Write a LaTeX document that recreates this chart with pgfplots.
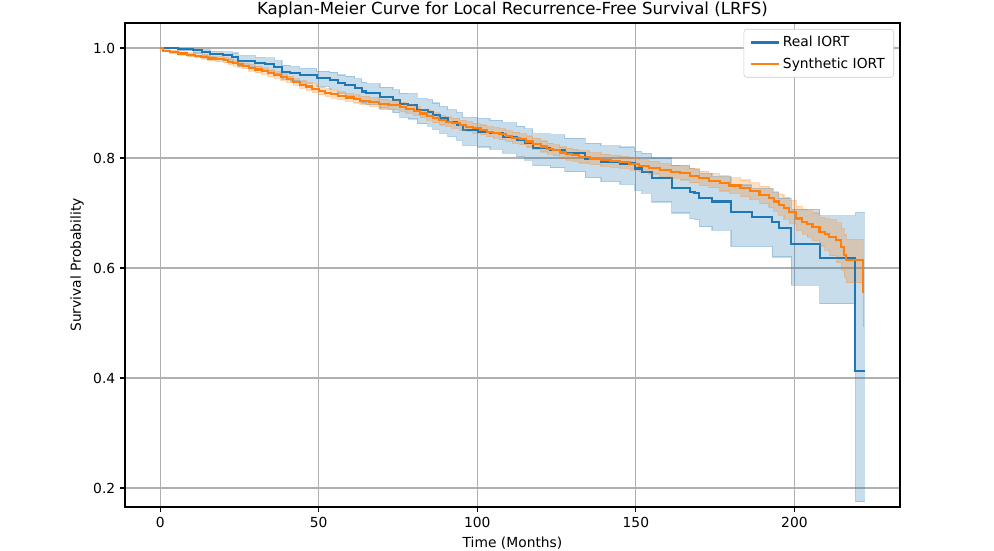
\documentclass[border=0pt]{standalone}
\usepackage{fontspec}
\setmainfont{DejaVu Sans}
\usepackage{pgfplots}
\usepackage{pgfplotstable}
\pgfplotsset{compat=1.18}
\usepgfplotslibrary{fillbetween}

\definecolor{tabblue}{HTML}{1F77B4}
\definecolor{taborange}{HTML}{FF7F0E}
\definecolor{gridgray}{HTML}{B0B0B0}
\definecolor{legendedge}{HTML}{CCCCCC}

% Kaplan-Meier estimate (s) with 95% confidence band (lo, hi), months
\pgfplotstableread{
t s lo hi
0 1.000 1.000 1.000
5.7 0.998 0.995 0.999
10.4 0.996 0.991 0.998
13.2 0.993 0.986 0.997
15.7 0.989 0.981 0.994
19.8 0.987 0.978 0.993
22.7 0.984 0.974 0.991
24.6 0.977 0.966 0.986
30.0 0.973 0.961 0.983
33.0 0.971 0.958 0.982
36.0 0.966 0.953 0.977
38.4 0.957 0.943 0.969
41.0 0.954 0.940 0.966
44.0 0.951 0.936 0.963
49.4 0.945 0.930 0.958
53.5 0.942 0.925 0.956
56.0 0.936 0.918 0.951
58.3 0.933 0.914 0.949
61.4 0.927 0.907 0.944
63.6 0.921 0.900 0.938
65.0 0.918 0.897 0.935
69.3 0.911 0.889 0.929
73.4 0.905 0.882 0.924
75.6 0.898 0.874 0.918
78.2 0.896 0.871 0.917
81.0 0.887 0.862 0.908
84.4 0.884 0.858 0.906
86.0 0.878 0.852 0.900
88.2 0.872 0.845 0.894
90.7 0.866 0.839 0.888
93.5 0.860 0.832 0.883
95.4 0.851 0.823 0.874
100.2 0.848 0.820 0.872
104.0 0.845 0.816 0.869
108.0 0.839 0.809 0.864
112.4 0.833 0.802 0.858
115.0 0.827 0.796 0.853
117.5 0.818 0.786 0.844
123.0 0.815 0.782 0.842
127.6 0.809 0.775 0.836
134.0 0.799 0.764 0.827
139.0 0.793 0.757 0.822
145.0 0.790 0.752 0.820
149.6 0.781 0.741 0.812
151.8 0.775 0.736 0.809
155.0 0.763 0.720 0.800
161.3 0.745 0.700 0.787
167.0 0.739 0.690 0.781
168.5 0.736 0.688 0.779
170.0 0.727 0.675 0.772
174.0 0.721 0.669 0.766
180.0 0.702 0.639 0.751
186.5 0.693 0.639 0.745
193.0 0.683 0.620 0.737
195.0 0.672 0.620 0.727
199.0 0.643 0.569 0.707
208.0 0.619 0.535 0.695
219.2 0.413 0.175 0.701
222.2 0.413 0.175 0.701
}\realiort

\pgfplotstableread{
t s lo hi
0 1.000 1.000 1.000
0.9 0.995 0.993 0.997
3.0 0.993 0.990 0.996
5.7 0.990 0.987 0.993
8.5 0.988 0.984 0.991
11.0 0.986 0.982 0.990
13.0 0.984 0.980 0.988
15.0 0.981 0.977 0.985
17.5 0.980 0.975 0.984
20.0 0.978 0.973 0.983
21.5 0.975 0.970 0.980
23.0 0.972 0.967 0.977
24.5 0.970 0.965 0.975
26.0 0.967 0.962 0.972
28.0 0.964 0.958 0.970
30.0 0.961 0.955 0.967
32.0 0.958 0.952 0.964
34.0 0.954 0.948 0.960
36.0 0.951 0.945 0.957
38.0 0.947 0.941 0.953
40.0 0.943 0.937 0.949
42.0 0.938 0.932 0.944
44.0 0.933 0.927 0.940
46.0 0.930 0.923 0.937
48.0 0.926 0.919 0.933
50.0 0.922 0.915 0.929
52.0 0.919 0.912 0.926
54.0 0.916 0.909 0.923
56.0 0.913 0.906 0.920
58.5 0.910 0.903 0.917
61.0 0.907 0.900 0.915
63.0 0.904 0.897 0.912
66.0 0.902 0.894 0.910
69.0 0.899 0.891 0.907
72.0 0.896 0.888 0.904
75.6 0.893 0.885 0.901
77.5 0.889 0.881 0.897
80.0 0.885 0.877 0.893
82.0 0.881 0.873 0.889
84.0 0.877 0.869 0.886
86.0 0.873 0.864 0.882
88.0 0.869 0.860 0.878
90.0 0.866 0.857 0.875
92.0 0.863 0.854 0.872
94.5 0.860 0.851 0.869
96.5 0.857 0.848 0.866
98.5 0.854 0.845 0.863
101.0 0.851 0.842 0.860
103.0 0.848 0.839 0.857
105.0 0.846 0.836 0.855
107.0 0.843 0.833 0.853
109.0 0.840 0.830 0.850
111.0 0.837 0.827 0.847
113.4 0.834 0.824 0.844
115.5 0.830 0.820 0.840
117.5 0.826 0.816 0.836
120.0 0.821 0.811 0.831
122.0 0.817 0.807 0.827
124.0 0.814 0.804 0.824
126.0 0.810 0.800 0.820
128.0 0.807 0.796 0.818
130.0 0.805 0.794 0.816
132.0 0.802 0.791 0.813
135.5 0.799 0.788 0.810
139.0 0.796 0.785 0.807
142.0 0.794 0.783 0.805
145.0 0.792 0.781 0.803
148.0 0.789 0.778 0.800
151.0 0.786 0.775 0.797
154.0 0.782 0.771 0.794
157.5 0.778 0.766 0.790
161.0 0.775 0.763 0.787
164.0 0.772 0.760 0.784
167.0 0.768 0.755 0.781
170.0 0.763 0.750 0.776
173.0 0.759 0.746 0.772
176.4 0.754 0.740 0.768
179.5 0.750 0.736 0.764
183.0 0.745 0.730 0.760
186.0 0.740 0.725 0.755
189.0 0.733 0.717 0.749
192.0 0.727 0.710 0.744
193.5 0.721 0.703 0.739
195.0 0.715 0.696 0.734
196.7 0.709 0.689 0.729
198.4 0.702 0.681 0.723
200.6 0.690 0.668 0.712
202.5 0.684 0.661 0.707
204.0 0.680 0.656 0.704
205.7 0.675 0.650 0.700
207.9 0.666 0.640 0.692
209.5 0.662 0.632 0.690
211.0 0.657 0.622 0.688
213.2 0.651 0.610 0.682
214.8 0.639 0.596 0.672
215.7 0.624 0.583 0.660
216.4 0.615 0.573 0.652
221.7 0.557 0.493 0.610
222.0 0.557 0.493 0.610
}\synthiort

\begin{document}
\begin{tikzpicture}
\begin{axis}[
  name=ax,
  scale only axis,
  width=7.75in, height=4.84in,
  xmin=-11.1, xmax=233.3,
  ymin=0.1655, ymax=1.0455,
  xtick={0,50,100,150,200},
  ytick={0.2,0.4,0.6,0.8,1.0},
  yticklabel style={/pgf/number format/.cd, fixed, fixed zerofill, precision=1},
  /pgf/number format/assume math mode=true,
  xtick pos=bottom, ytick pos=left,
  tick align=outside,
  major tick length=0.049in,
  tick style={black, line width=0.8pt},
  axis line style={black, line width=0.8pt},
  grid=major,
  grid style={gridgray, line width=0.8pt},
  tick label style={font=\fontsize{10}{12}\selectfont},
  label style={font=\fontsize{10}{12}\selectfont},
  title style={font=\fontsize{12}{14}\selectfont, at={(0.5,1)}, anchor=south, inner sep=0pt, yshift=-2.5pt},
  title={Kaplan-Meier Curve for Local Recurrence-Free Survival (LRFS)},
  xlabel={Time (Months)},
  ylabel={Survival Probability},
  legend cell align=left,
  legend style={
    at={(1,1)}, anchor=north east, xshift=-0.06in, yshift=-0.06in,
    draw=legendedge, rounded corners=2pt,
    font=\fontsize{10}{12}\selectfont,
    inner xsep=4.5pt, inner ysep=3pt, row sep=2.5pt
  },
  legend image code/.code={\draw[#1, line width=1.5pt] (0in,0in) -- (0.28in,0in);},
]
% Real IORT: band, then estimate
\addplot[name path=rhi, const plot, draw=tabblue, draw opacity=0.25, line width=0.8pt, forget plot] table[x=t, y=hi] {\realiort};
\addplot[name path=rlo, const plot, draw=tabblue, draw opacity=0.25, line width=0.8pt, forget plot] table[x=t, y=lo] {\realiort};
\addplot[tabblue, fill opacity=0.25, draw=none, forget plot] fill between[of=rhi and rlo];
\addplot[const plot, tabblue, line width=1.5pt] table[x=t, y=s] {\realiort};
\addlegendentry{Real IORT}
% Synthetic IORT: band, then estimate
\addplot[name path=shi, const plot, draw=taborange, draw opacity=0.25, line width=0.8pt, forget plot] table[x=t, y=hi] {\synthiort};
\addplot[name path=slo, const plot, draw=taborange, draw opacity=0.25, line width=0.8pt, forget plot] table[x=t, y=lo] {\synthiort};
\addplot[taborange, fill opacity=0.25, draw=none, forget plot] fill between[of=shi and slo];
\addplot[const plot, taborange, line width=1.5pt] table[x=t, y=s] {\synthiort};
\addlegendentry{Synthetic IORT}
\end{axis}
\pgfresetboundingbox
\path[use as bounding box] ([xshift=-1.25in, yshift=-0.44in]ax.south west) rectangle ([xshift=0.94in, yshift=0.23in]ax.north east);
\end{tikzpicture}
\end{document}
